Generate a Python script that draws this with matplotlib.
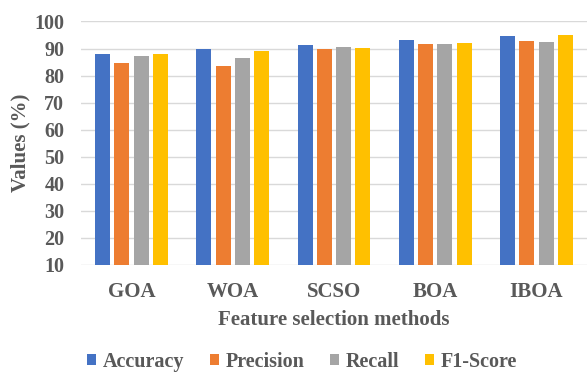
import matplotlib
matplotlib.use("Agg")
import matplotlib.pyplot as plt
import numpy as np

methods = ["GOA", "WOA", "SCSO", "BOA", "IBOA"]
series_names = ["Accuracy", "Precision", "Recall", "F1-Score"]
accuracy = [88.0, 90.0, 91.4, 93.2, 94.8]
precision = [84.6, 83.5, 90.0, 91.8, 92.9]
recall = [87.3, 86.5, 90.6, 91.8, 92.6]
f1_score = [88.0, 89.1, 90.2, 92.1, 95.0]
y_ticks = [10, 20, 30, 40, 50, 60, 70, 80, 90, 100]

colors = ["#4472C4", "#ED7D31", "#A5A5A5", "#FFC000"]
text_color = "#595959"
font = "Liberation Serif"

fig = plt.figure(figsize=(5.88, 3.74), dpi=100)
ax = fig.add_axes([81/588, 1-265/374, (587-81)/588, (265-21.5)/374])

x = np.arange(len(methods))
data = [accuracy, precision, recall, f1_score]
pitch = 0.19
width = 0.148
for i, (name, vals, c) in enumerate(zip(series_names, data, colors)):
    ax.bar(x + (i - 1.5) * pitch, vals, width, color=c, label=name, zorder=3)

ax.set_xlim(-0.5, len(methods) - 0.5)
ax.set_ylim(10, 100)
ax.set_yticks(y_ticks)
ax.grid(axis="y", color="#D9D9D9", linewidth=1, zorder=0)
for s in ax.spines.values():
    s.set_visible(False)
ax.tick_params(axis="both", length=0, colors=text_color)
ax.set_xticks(x)
ax.set_xticklabels(methods, fontfamily=font, fontweight="bold", fontsize=15, color=text_color)
ax.set_yticklabels([str(t) for t in y_ticks], fontfamily=font, fontweight="bold", fontsize=14.5, color=text_color)
ax.tick_params(axis="x", pad=12)
ax.tick_params(axis="y", pad=12)
ax.set_xlabel("Feature selection methods", fontfamily=font, fontweight="bold", fontsize=15, color=text_color, labelpad=6)
ax.set_ylabel("Values (%)", fontfamily=font, fontweight="bold", fontsize=15, color=text_color, labelpad=3)

leg = fig.legend(loc="center", bbox_to_anchor=(302/588, 1-362/374), ncol=4, frameon=False,
                 prop={"family": font, "weight": "bold", "size": 14.5},
                 handlelength=0.45, handleheight=0.45, handletextpad=0.3, columnspacing=1.3,
                 borderpad=0.1)
for t in leg.get_texts():
    t.set_color(text_color)

fig.savefig("out.png", dpi=100)
